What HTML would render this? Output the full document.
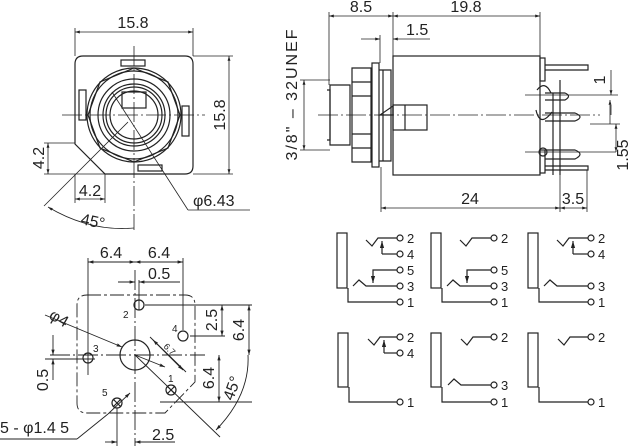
<!DOCTYPE html><html><head><style>body{margin:0;background:#fff}svg{display:block}text{font-family:"Liberation Sans",sans-serif;fill:#222}</style></head><body>
<svg width="632" height="446" viewBox="0 0 632 446" xmlns="http://www.w3.org/2000/svg" stroke="#222" fill="none" stroke-width="1">
<defs><marker id="a" viewBox="0 0 10 10" refX="10" refY="5" markerWidth="6" markerHeight="6" orient="auto-start-reverse"><path d="M0,2L10,5L0,8z" fill="#222" stroke="none"/></marker></defs>
<!-- FRONT VIEW -->
<g stroke-width="1.2">
<path d="M83,56H185Q193,56 193,64V166Q193,174 185,174H105L75,144V64Q75,56 83,56Z"/>
<circle cx="134" cy="115" r="47"/><circle cx="134" cy="115" r="44"/>
<polygon points="134,68 168,82 180,115 168,148 134,162 100,148 88,115 100,82"/>
<circle cx="134" cy="115" r="36"/><circle cx="134" cy="115" r="31"/><circle cx="134" cy="115" r="28"/><circle cx="134" cy="115" r="24"/>
<rect x="122" y="92" width="24" height="16"/><rect x="121" y="60" width="24" height="6"/><rect x="138" y="165" width="24" height="6"/>
<rect x="79" y="90" width="7" height="30"/><rect x="182" y="106" width="7" height="30"/>
</g>
<g stroke-width="0.8">
<line x1="134" y1="46" x2="134" y2="230" stroke-dasharray="20,3,2,3"/>
<line x1="62" y1="115" x2="205" y2="115" stroke-dasharray="20,3,2,3"/>
<line x1="75" y1="28" x2="75" y2="56"/><line x1="193" y1="28" x2="193" y2="56"/>
<line x1="75" y1="32" x2="193" y2="32" marker-start="url(#a)" marker-end="url(#a)"/>
<line x1="193" y1="56" x2="233" y2="56"/><line x1="193" y1="174" x2="233" y2="174"/>
<line x1="229" y1="56" x2="229" y2="174" marker-start="url(#a)" marker-end="url(#a)"/>
<line x1="44" y1="143" x2="75" y2="143"/><line x1="44" y1="174" x2="105" y2="174"/>
<line x1="48" y1="143" x2="48" y2="174" marker-start="url(#a)" marker-end="url(#a)"/>
<line x1="75" y1="174" x2="75" y2="203"/><line x1="105" y1="174" x2="105" y2="203"/>
<line x1="75" y1="199" x2="105" y2="199" marker-start="url(#a)" marker-end="url(#a)"/>
<line x1="112" y1="92" x2="188" y2="210"/><line x1="188" y1="210" x2="250" y2="210"/>
<line x1="128" y1="122" x2="44" y2="206"/>
<path d="M48,207Q90,232 134,228" marker-start="url(#a)"/>
</g>
<text x="133" y="28" font-size="16" text-anchor="middle" stroke="none">15.8</text>
<text transform="translate(225,115) rotate(-90)" font-size="16" text-anchor="middle" stroke="none">15.8</text>
<text transform="translate(44,158) rotate(-90)" font-size="16" text-anchor="middle" stroke="none">4.2</text>
<text x="90" y="196" font-size="16" text-anchor="middle" stroke="none">4.2</text>
<text x="193" y="206" font-size="16" stroke="none">φ6.43</text>
<text transform="translate(80,224) rotate(12)" font-size="16" stroke="none">45°</text>
<!-- SIDE VIEW -->
<g stroke-width="1.2">
<rect x="393" y="56" width="147" height="119"/>
<rect x="540" y="58" width="5" height="23"/><rect x="540" y="150" width="5" height="23"/>
<path d="M330,85H350V145H330Z"/><path d="M327,90H330V140H327"/>
<path d="M352,68H371V162H352Z"/><path d="M352,82H371M352,96H371M352,134H371M352,148H371"/>
<rect x="372" y="63" width="7" height="104"/><path d="M379,70H391V161H379"/><path d="M383,70V161"/>
<path d="M393,115L380,115L393,106Z"/><rect x="393" y="105" width="34" height="25"/><path d="M405,105V130"/>
<path d="M545,65H588V70H545M545,93H565Q572,96 565,100H545M545,113H575Q585,117 575,121H545M545,150H575Q585,154 575,159H545M545,166H588V170H545"/>
<path d="M553,93V175M560,80V175"/>
<path d="M537,90Q545,80 551,93M536,110Q540,128 552,112"/><circle cx="543" cy="152" r="4"/>
</g>
<g stroke-width="0.8">
<line x1="318" y1="115" x2="600" y2="115" stroke-dasharray="20,3,2,3"/>
<line x1="329" y1="12" x2="329" y2="85"/><line x1="393" y1="12" x2="393" y2="56"/><line x1="540" y1="12" x2="540" y2="56"/>
<line x1="329" y1="16" x2="393" y2="16" marker-start="url(#a)" marker-end="url(#a)"/>
<line x1="393" y1="16" x2="540" y2="16" marker-start="url(#a)" marker-end="url(#a)"/>
<line x1="380" y1="35" x2="380" y2="63"/>
<line x1="361" y1="39" x2="380" y2="39" marker-end="url(#a)"/><line x1="393" y1="39" x2="430" y2="39" marker-start="url(#a)"/>
<line x1="300" y1="80" x2="330" y2="80"/><line x1="300" y1="150" x2="330" y2="150"/>
<line x1="304" y1="80" x2="304" y2="150" marker-start="url(#a)" marker-end="url(#a)"/>
<line x1="381" y1="167" x2="381" y2="212"/><line x1="560" y1="175" x2="560" y2="212"/><line x1="587" y1="170" x2="587" y2="212"/>
<line x1="381" y1="208" x2="560" y2="208" marker-start="url(#a)" marker-end="url(#a)"/>
<line x1="560" y1="208" x2="587" y2="208" marker-start="url(#a)" marker-end="url(#a)"/>
<line x1="525" y1="95" x2="618" y2="95"/><line x1="525" y1="152" x2="616" y2="152"/><line x1="590" y1="124" x2="620" y2="124"/>
<line x1="611" y1="70" x2="611" y2="95" marker-end="url(#a)"/><line x1="611" y1="115" x2="611" y2="105" />
<line x1="610" y1="100" x2="610" y2="124" marker-start="url(#a)"/>
<line x1="616" y1="124" x2="616" y2="152" marker-start="url(#a)" marker-end="url(#a)"/>
</g>
<text x="361" y="12" font-size="16" text-anchor="middle" stroke="none">8.5</text>
<text x="466" y="12" font-size="16" text-anchor="middle" stroke="none">19.8</text>
<text x="406" y="35" font-size="16" stroke="none">1.5</text>
<text x="470" y="204" font-size="16" text-anchor="middle" stroke="none">24</text>
<text x="573" y="204" font-size="16" text-anchor="middle" stroke="none">3.5</text>
<text transform="translate(605,80) rotate(-90)" font-size="16" text-anchor="middle" stroke="none">1</text>
<text transform="translate(628,155) rotate(-90)" font-size="16" text-anchor="middle" stroke="none">1.55</text>
<text transform="translate(297,94) rotate(-90)" font-size="16" text-anchor="middle" letter-spacing="2" stroke="none">3/8" – 32UNEF</text>
<!-- BOTTOM VIEW -->
<g stroke-width="0.9">
<path d="M87,295H185Q195,295 195,305V382L165,413H87Q77,413 77,403V305Q77,295 87,295Z" stroke-dasharray="14,3,3,3"/>
<line x1="135" y1="270" x2="135" y2="446" stroke-dasharray="20,3,2,3"/>
<line x1="50" y1="355" x2="205" y2="355" stroke-dasharray="20,3,2,3"/>
<line x1="88" y1="258" x2="88" y2="375"/><line x1="183" y1="258" x2="183" y2="330"/>
<line x1="88" y1="262" x2="135" y2="262" marker-start="url(#a)" marker-end="url(#a)"/>
<line x1="135" y1="262" x2="183" y2="262" marker-start="url(#a)" marker-end="url(#a)"/>
<line x1="139" y1="280" x2="139" y2="310"/>
<line x1="118" y1="282" x2="135" y2="282" marker-end="url(#a)"/><line x1="139" y1="282" x2="180" y2="282" marker-start="url(#a)"/>
<line x1="145" y1="305" x2="252" y2="305"/><line x1="190" y1="336" x2="225" y2="336"/><line x1="160" y1="402" x2="252" y2="402"/>
<line x1="222" y1="305" x2="222" y2="336" marker-start="url(#a)" marker-end="url(#a)"/>
<line x1="249" y1="305" x2="249" y2="355" marker-start="url(#a)" marker-end="url(#a)"/>
<line x1="219" y1="355" x2="219" y2="402" marker-start="url(#a)" marker-end="url(#a)"/>
<line x1="53" y1="335" x2="53" y2="355" marker-end="url(#a)"/><line x1="53" y1="359" x2="53" y2="380" marker-start="url(#a)"/>
<line x1="45" y1="359" x2="95" y2="359"/>
<line x1="45" y1="315" x2="122" y2="347" marker-end="url(#a)"/>
<line x1="135" y1="355" x2="165" y2="367" marker-end="url(#a)"/>
<line x1="150" y1="337" x2="186" y2="372"/><line x1="153" y1="340" x2="183" y2="370" marker-start="url(#a)" marker-end="url(#a)"/>
<line x1="135" y1="355" x2="220" y2="437"/>
<line x1="77" y1="439" x2="108" y2="414" /><line x1="108" y1="414" x2="130" y2="393" marker-end="url(#a)"/>
<line x1="0" y1="439" x2="77" y2="439"/>
<line x1="117" y1="408" x2="117" y2="446"/>
<line x1="105" y1="442" x2="117" y2="442" marker-end="url(#a)"/><line x1="135" y1="442" x2="175" y2="442" marker-start="url(#a)"/>
<path d="M216,430Q250,395 248,355" marker-start="url(#a)"/>
</g>
<g stroke-width="1.2"><circle cx="135" cy="355" r="15"/>
<circle cx="139" cy="305" r="5"/><circle cx="183" cy="336" r="5"/><circle cx="88" cy="358" r="5"/><circle cx="171" cy="390" r="5"/><circle cx="117" cy="403" r="5"/>
<path d="M167,386L175,394M175,386L167,394M113,399L121,407M121,399L113,407"/></g>
<g font-size="10" stroke="none"><text x="123" y="318">2</text><text x="172" y="332">4</text><text x="93" y="352">3</text><text x="168" y="382">1</text><text x="102" y="396">5</text>
<text transform="translate(163,347) rotate(45)" font-size="9">6.7</text></g>
<g font-size="16" stroke="none"><text x="111" y="258" text-anchor="middle">6.4</text><text x="159" y="258" text-anchor="middle">6.4</text><text x="148" y="279">0.5</text>
<text transform="translate(217,320) rotate(-90)" text-anchor="middle">2.5</text><text transform="translate(244,330) rotate(-90)" text-anchor="middle">6.4</text>
<text transform="translate(214,378) rotate(-90)" text-anchor="middle">6.4</text><text transform="translate(48,380) rotate(-90)" text-anchor="middle">0.5</text>
<text transform="translate(237,390) rotate(-70)" text-anchor="middle">45°</text>
<text transform="translate(48,318) rotate(30)">φ4</text><text x="0" y="433">5 - φ1.4 5</text><text x="152" y="440">2.5</text></g>
<!-- SCHEMATICS -->
<g stroke-width="1.2" font-size="13">
<g>
<rect x="337" y="233" width="10" height="55"/><path d="M348,288V302H397"/><circle cx="400" cy="302" r="3"/>
<path d="M366,240L372,246L378,238H397"/><circle cx="400" cy="238" r="3"/><path d="M382,254V241" marker-end="url(#a)"/><path d="M382,254H397"/><circle cx="400" cy="254" r="3"/>
<path d="M353,286L359,280L366,286H397"/><circle cx="400" cy="286" r="3"/><path d="M397,270H373V283" marker-end="url(#a)"/><circle cx="400" cy="270" r="3"/>
<g stroke="none"><text x="407" y="243">2</text><text x="407" y="259">4</text><text x="407" y="275">5</text><text x="407" y="291">3</text><text x="407" y="307">1</text></g>
</g>
<g>
<rect x="431" y="233" width="10" height="55"/><path d="M442,288V302H491"/><circle cx="494" cy="302" r="3"/>
<path d="M460,240L466,246L472,238H491"/><circle cx="494" cy="238" r="3"/>
<path d="M447,286L453,280L460,286H491"/><circle cx="494" cy="286" r="3"/><path d="M491,270H467V283" marker-end="url(#a)"/><circle cx="494" cy="270" r="3"/>
<g stroke="none"><text x="501" y="243">2</text><text x="501" y="275">5</text><text x="501" y="291">3</text><text x="501" y="307">1</text></g>
</g>
<g>
<rect x="528" y="233" width="10" height="55"/><path d="M539,288V302H588"/><circle cx="591" cy="302" r="3"/>
<path d="M557,240L563,246L569,238H588"/><circle cx="591" cy="238" r="3"/><path d="M573,254V241" marker-end="url(#a)"/><path d="M573,254H588"/><circle cx="591" cy="254" r="3"/>
<path d="M544,286L550,280L557,286H588"/><circle cx="591" cy="286" r="3"/>
<g stroke="none"><text x="598" y="243">2</text><text x="598" y="259">4</text><text x="598" y="291">3</text><text x="598" y="307">1</text></g>
</g>
<g>
<rect x="338" y="333" width="10" height="54"/><path d="M349,387V402H397"/><circle cx="400" cy="402" r="3"/>
<path d="M368,339L374,345L380,337H397"/><circle cx="400" cy="337" r="3"/><path d="M384,353V340" marker-end="url(#a)"/><path d="M384,353H397"/><circle cx="400" cy="353" r="3"/>
<g stroke="none"><text x="407" y="342">2</text><text x="407" y="358">4</text><text x="407" y="407">1</text></g>
</g>
<g>
<rect x="431" y="333" width="10" height="54"/><path d="M442,387V402H491"/><circle cx="494" cy="402" r="3"/>
<path d="M461,339L467,345L473,337H491"/><circle cx="494" cy="337" r="3"/>
<path d="M448,385L454,379L461,385H491"/><circle cx="494" cy="385" r="3"/>
<g stroke="none"><text x="501" y="342">2</text><text x="501" y="390">3</text><text x="501" y="407">1</text></g>
</g>
<g>
<rect x="528" y="333" width="10" height="54"/><path d="M539,387V402H588"/><circle cx="591" cy="402" r="3"/>
<path d="M558,339L564,345L570,337H588"/><circle cx="591" cy="337" r="3"/>
<g stroke="none"><text x="598" y="342">2</text><text x="598" y="407">1</text></g>
</g>
</g>
</svg>
</body></html>
